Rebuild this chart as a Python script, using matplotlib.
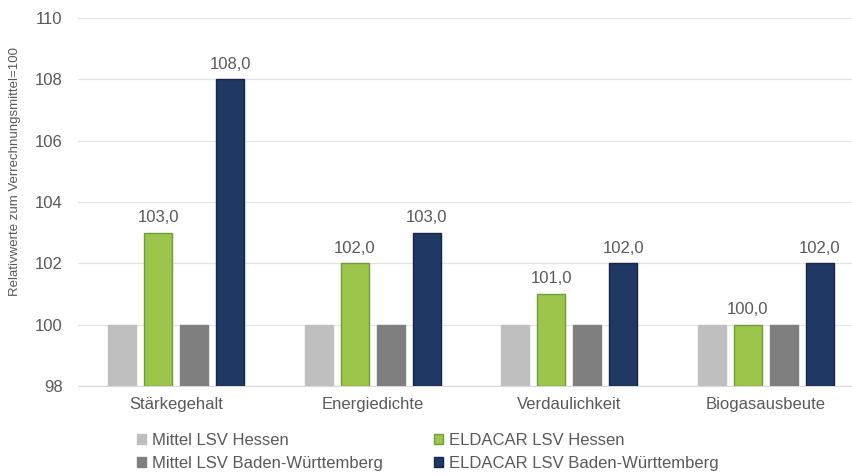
import numpy as np
import matplotlib.pyplot as plt

plt.rcParams['font.family'] = ['Liberation Sans', 'DejaVu Sans']

categories = ["Stärkegehalt", "Energiedichte", "Verdaulichkeit", "Biogasausbeute"]
mittel_hessen = [100, 100, 100, 100]
eldacar_hessen = [103.0, 102.0, 101.0, 100.0]
mittel_bw = [100, 100, 100, 100]
eldacar_bw = [108.0, 103.0, 102.0, 102.0]

series = [
    ("Mittel LSV Hessen", mittel_hessen, "#BFBFBF", "#BFBFBF", False),
    ("ELDACAR LSV Hessen", eldacar_hessen, "#9DC54B", "#6E9E3A", True),
    ("Mittel LSV Baden-Württemberg", mittel_bw, "#7F7F7F", "#7F7F7F", False),
    ("ELDACAR LSV Baden-Württemberg", eldacar_bw, "#1F3864", "#14264A", True),
]

txt = "#595959"
fig = plt.figure(figsize=(8.53, 4.76), dpi=100)
ax = fig.add_axes([78 / 853, 1 - 386 / 476, 1 - 78 / 853, (386 - 18) / 476])

x = np.arange(len(categories))
width = 0.143
pitch = 0.183
handles = []
for i, (name, vals, fc, ec, lab) in enumerate(series):
    pos = x + (i - 1.5) * pitch
    heights = [v - 98 for v in vals]
    b = ax.bar(pos, heights, width, bottom=98, color=fc, edgecolor=ec, linewidth=1, label=name, zorder=3)
    handles.append(b)
    if lab:
        for p, v in zip(pos, vals):
            ax.text(p, v + 0.25, f"{v:.1f}".replace(".", ","), ha="center", va="bottom",
                    fontsize=12, color=txt)

ax.set_ylim(98, 110)
ax.set_yticks(range(98, 111, 2))
ax.set_xlim(-0.5, -0.5 + 775 / 196.5)
ax.set_xticks(x)
ax.set_xticklabels(categories)
ax.grid(axis="y", color="#E3E3E3", linewidth=0.9, zorder=0)
for s in ["top", "right", "left"]:
    ax.spines[s].set_visible(False)
ax.spines["bottom"].set_color("#D9D9D9")
ax.tick_params(axis="both", length=0, colors=txt, labelsize=12)
ax.tick_params(axis="x", pad=8)
ax.tick_params(axis="y", pad=11)
fig.text(15 / 853, 1 - 172 / 476, "Relativwerte zum Verrechnungsmittel=100", rotation=90,
         ha="center", va="center", fontsize=9.5, color=txt)

# legend is filled column by column, so order the handles for the two rows
order = [0, 2, 1, 3]
fig.legend(handles=[handles[k] for k in order], loc="lower left", bbox_to_anchor=(122 / 853, -0.02),
           ncol=2, frameon=False, fontsize=12, labelcolor=txt, handlelength=0.55, handleheight=0.55,
           handletextpad=0.35, columnspacing=3.05, labelspacing=0.45)

fig.savefig("out.png", dpi=100)
